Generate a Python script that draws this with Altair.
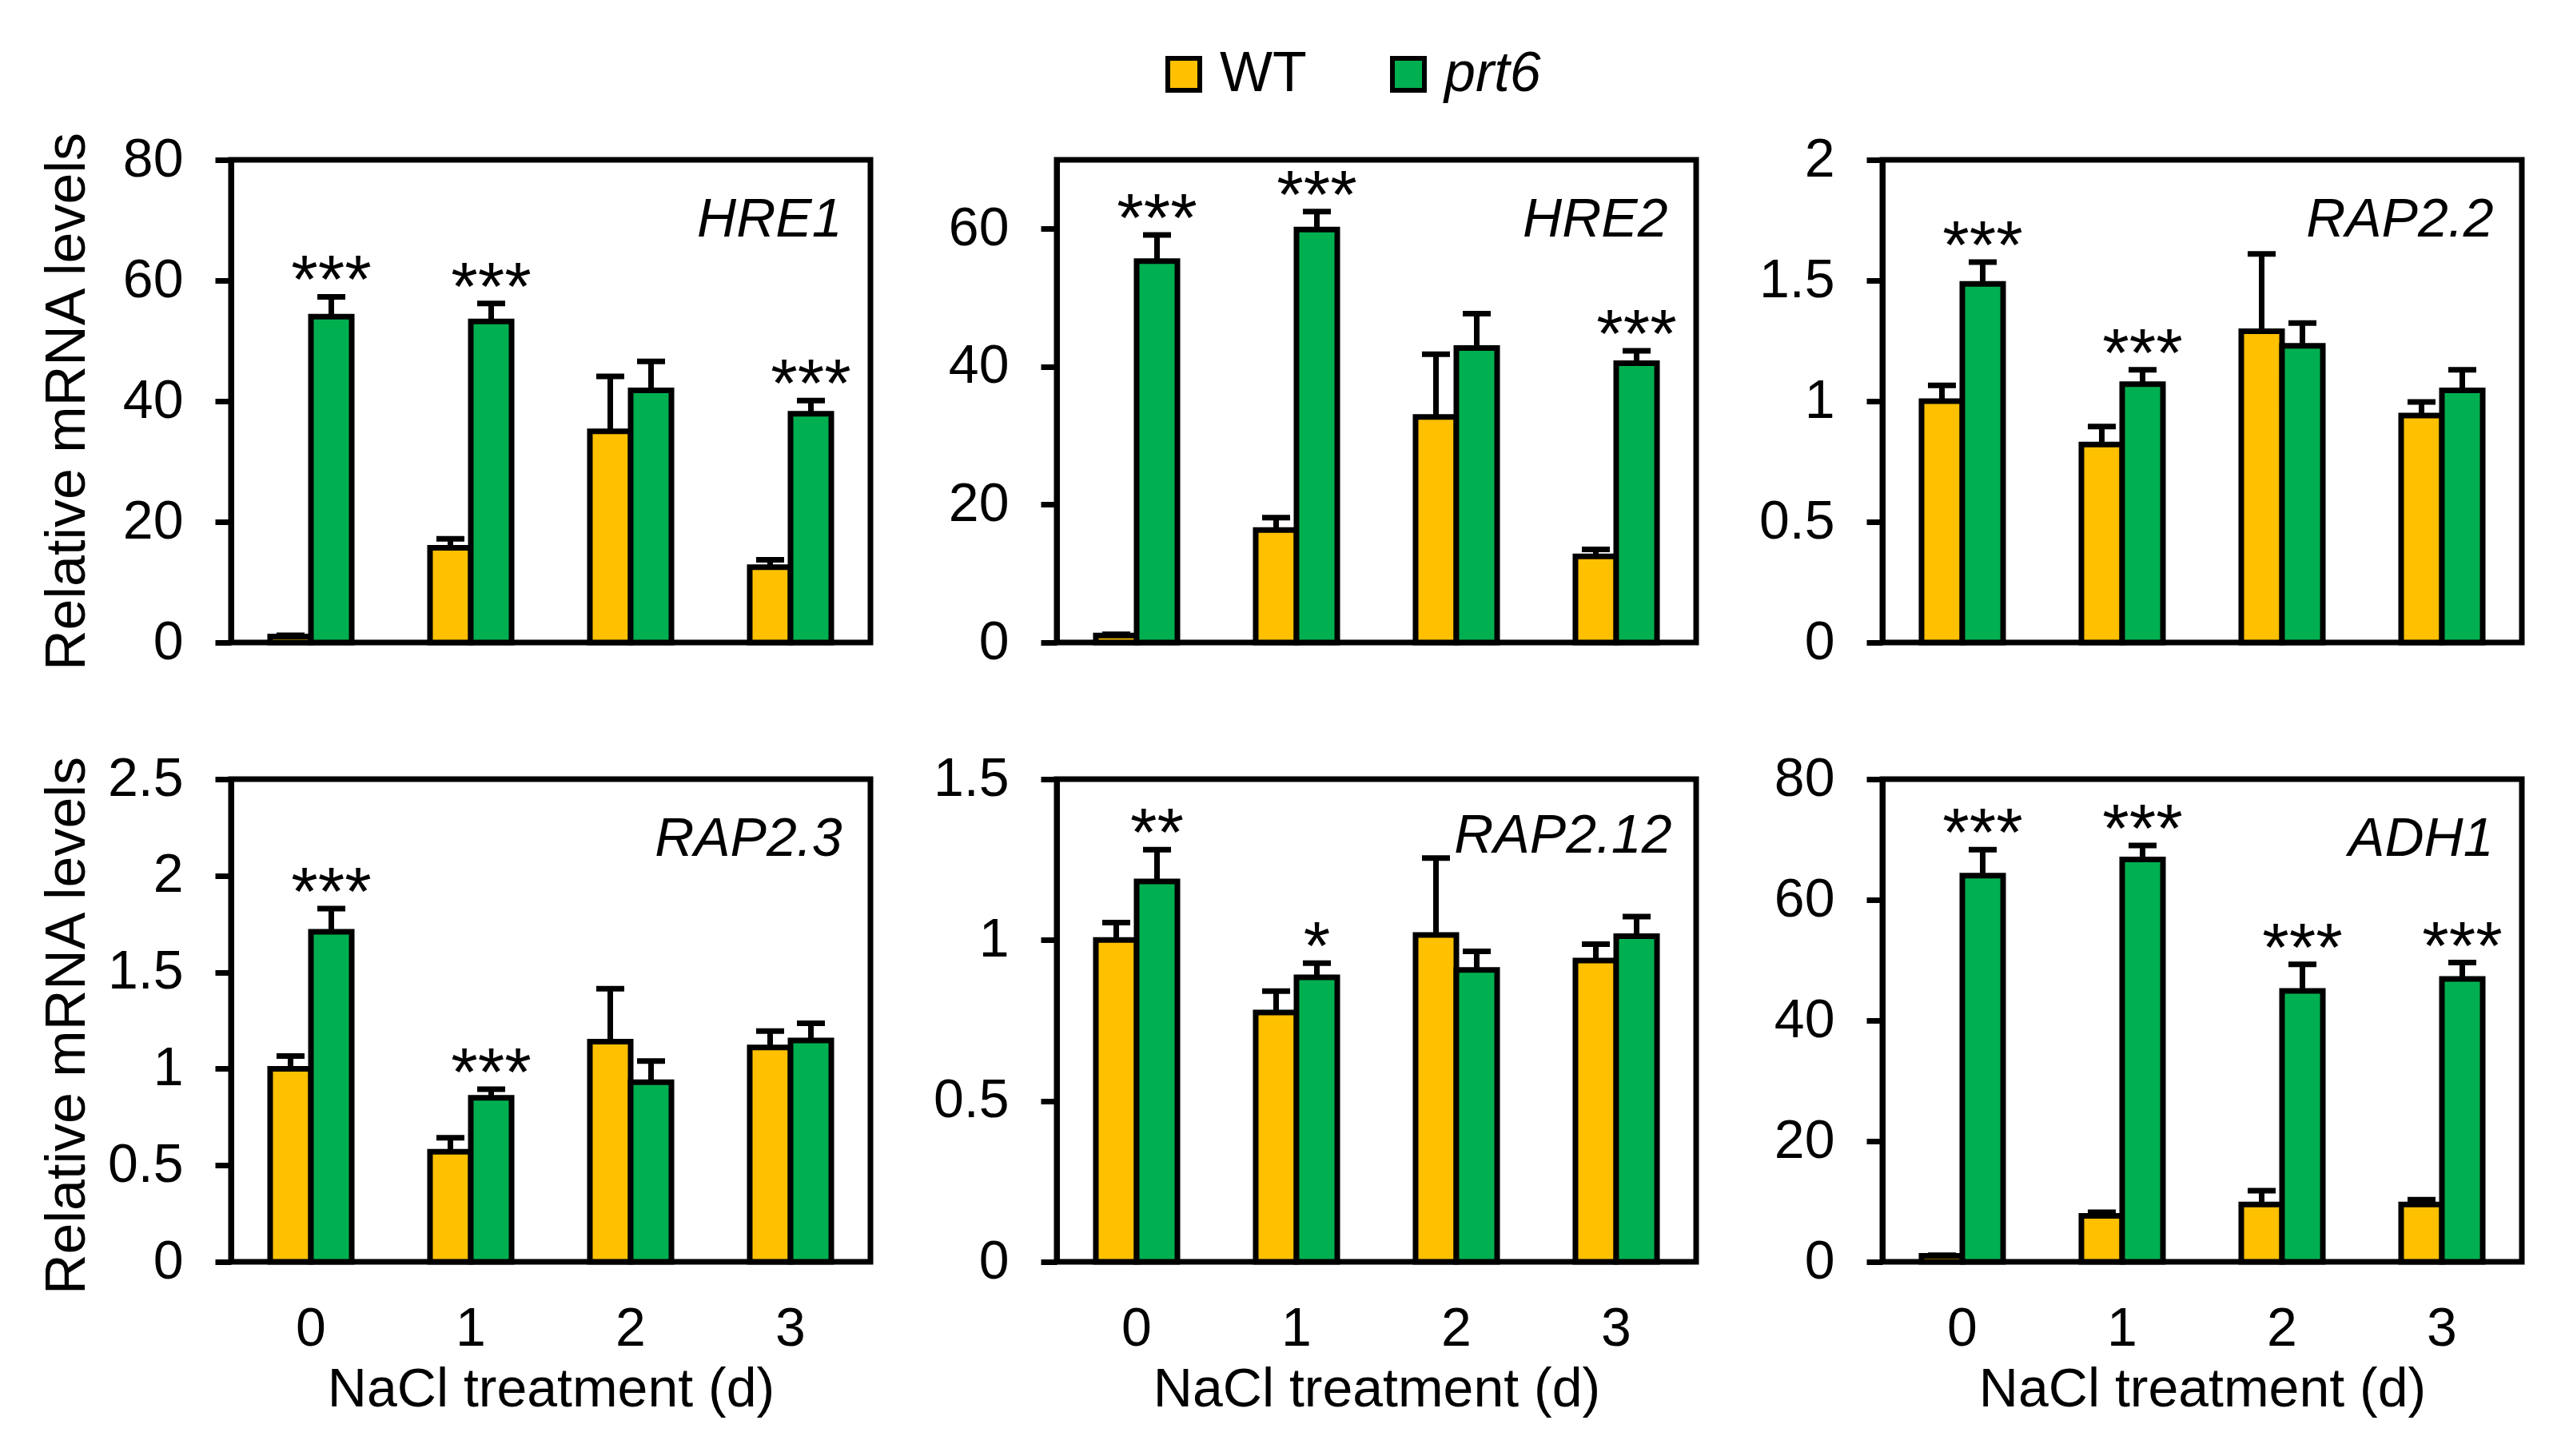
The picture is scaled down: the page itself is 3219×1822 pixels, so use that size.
import altair as alt
import pandas as pd

days = ["0", "1", "2", "3"]
genotypes = ["WT", "prt6"]
colors = ["#FFC000", "#00B050"]

genes = ["HRE1", "HRE2", "RAP2.2", "RAP2.3", "RAP2.12", "ADH1"]

wt_mean = {
    "HRE1": [1.0, 15.7, 35.0, 12.5],
    "HRE2": [1.0, 16.3, 32.7, 12.5],
    "RAP2.2": [1.0, 0.82, 1.29, 0.94],
    "RAP2.3": [1.0, 0.57, 1.14, 1.11],
    "RAP2.12": [1.0, 0.775, 1.016, 0.936],
    "ADH1": [1.0, 7.6, 9.5, 9.5],
}
wt_se = {
    "HRE1": [0.2, 1.5, 9.1, 1.2],
    "HRE2": [0.2, 1.8, 9.1, 1.0],
    "RAP2.2": [0.065, 0.075, 0.32, 0.057],
    "RAP2.3": [0.066, 0.073, 0.275, 0.085],
    "RAP2.12": [0.054, 0.066, 0.239, 0.051],
    "ADH1": [0.1, 0.6, 2.3, 0.8],
}
prt6_mean = {
    "HRE1": [54.0, 53.2, 41.8, 37.9],
    "HRE2": [55.3, 59.9, 42.7, 40.5],
    "RAP2.2": [1.486, 1.07, 1.229, 1.045],
    "RAP2.3": [1.709, 0.85, 0.93, 1.147],
    "RAP2.12": [1.182, 0.884, 0.907, 1.012],
    "ADH1": [64.0, 66.7, 44.9, 46.9],
}
prt6_se = {
    "HRE1": [3.3, 3.0, 4.8, 2.2],
    "HRE2": [3.8, 2.6, 5.0, 1.8],
    "RAP2.2": [0.09, 0.06, 0.095, 0.085],
    "RAP2.3": [0.12, 0.044, 0.11, 0.088],
    "RAP2.12": [0.099, 0.044, 0.058, 0.061],
    "ADH1": [4.3, 2.3, 4.4, 2.7],
}
signif = {
    "HRE1": ["***", "***", "", "***"],
    "HRE2": ["***", "***", "", "***"],
    "RAP2.2": ["***", "***", "", ""],
    "RAP2.3": ["***", "***", "", ""],
    "RAP2.12": ["**", "*", "", ""],
    "ADH1": ["***", "***", "***", "***"],
}
y_max = {"HRE1": 80, "HRE2": 70, "RAP2.2": 2, "RAP2.3": 2.5, "RAP2.12": 1.5, "ADH1": 80}
y_ticks = {
    "HRE1": [0, 20, 40, 60, 80],
    "HRE2": [0, 20, 40, 60],
    "RAP2.2": [0, 0.5, 1, 1.5, 2],
    "RAP2.3": [0, 0.5, 1, 1.5, 2, 2.5],
    "RAP2.12": [0, 0.5, 1, 1.5],
    "ADH1": [0, 20, 40, 60, 80],
}
y_title = "Relative mRNA levels"
x_title = "NaCl treatment (d)"

FONT = "Liberation Sans"
W, H = 800, 604
LW = 7


def panel(idx, gene):
    first_col = idx % 3 == 0
    bottom_row = idx >= 3
    df = pd.DataFrame({
        "day": days * 2,
        "genotype": ["WT"] * 4 + ["prt6"] * 4,
        "mean": wt_mean[gene] + prt6_mean[gene],
        "se": wt_se[gene] + prt6_se[gene],
        "sig": [""] * 4 + signif[gene],
    })
    df["top"] = df["mean"] + df["se"]

    xscale = alt.Scale(domain=days, paddingInner=0, paddingOuter=0)
    xoff = alt.XOffset("genotype:N", sort=genotypes,
                       scale=alt.Scale(domain=genotypes, paddingInner=0, paddingOuter=0.96))
    yscale = alt.Scale(domain=[0, y_max[gene]], nice=False, zero=True)

    if bottom_row:
        xaxis = alt.Axis(orient="bottom", title=x_title, labelAngle=0, ticks=False, tickSize=0,
                         domain=False, labelPadding=50, labelFontSize=68, titleFontSize=68,
                         titleFontWeight="normal", titleX=W / 2, titleY=180,
                         titleAlign="center", titleBaseline="alphabetic")
    else:
        xaxis = alt.Axis(orient="bottom", title=None, labels=False, ticks=False,
                         domain=False)

    yaxis = alt.Axis(values=y_ticks[gene], format="~g", tickSize=20, tickWidth=LW,
                     domainWidth=LW, labelPadding=40, labelFontSize=68, grid=False,
                     title=y_title if first_col else None,
                     titleX=-184, titleY=H / 2 + (6 if bottom_row else 0), titleAngle=-90,
                     titleAlign="center", titleBaseline="alphabetic", titleFontSize=70,
                     titleFontWeight="normal")

    gx = W - (31 if gene == "RAP2.12" else 36)
    gy = 91 if gene == "RAP2.12" else 95
    top_axis = alt.Axis(orient="top", labels=False, ticks=False, domain=False, title=gene,
                        titleX=gx, titleY=gy, titleAlign="right", titleBaseline="alphabetic",
                        titleFontStyle="italic", titleFontWeight="normal", titleFontSize=68,
                        titleAngle=0)

    base = alt.Chart(df)
    bars = base.mark_bar(stroke="black", strokeWidth=LW).encode(
        x=alt.X("day:N", scale=xscale, axis=xaxis, sort=days),
        xOffset=xoff,
        y=alt.Y("mean:Q", scale=yscale, axis=yaxis),
        color=alt.Color(
            "genotype:N",
            scale=alt.Scale(domain=genotypes, range=colors),
            legend=alt.Legend(
                title=None, orient="none", legendX=1157, legendY=-142,
                direction="horizontal", symbolType="square", symbolSize=1600,
                symbolStrokeColor="black", symbolStrokeWidth=6, symbolOpacity=1,
                labelFontSize=70, labelFont=FONT, labelOffset=10, columnPadding=92,
                labelLimit=0, padding=0,
                labelFontStyle={"expr": "datum.label == 'prt6' ? 'italic' : 'normal'"},
            ),
        ),
    )
    rules = base.mark_rule(color="black", strokeWidth=LW).encode(
        x=alt.X("day:N", scale=xscale, axis=None, sort=days),
        xOffset=xoff,
        y=alt.Y("mean:Q", scale=yscale),
        y2="top:Q",
    )
    caps = base.mark_tick(color="black", size=35, thickness=LW, opacity=1).encode(
        x=alt.X("day:N", scale=xscale, axis=None, sort=days),
        xOffset=xoff,
        y=alt.Y("top:Q", scale=yscale),
    )
    stars = base.transform_filter("datum.sig != ''").mark_text(
        fontSize=86, baseline="alphabetic", dy=8, font=FONT, color="black"
    ).encode(
        x=alt.X("day:N", scale=xscale, axis=top_axis, sort=days),
        xOffset=xoff,
        y=alt.Y("top:Q", scale=yscale),
        text="sig:N",
    )
    return alt.layer(bars, rules, caps, stars).properties(width=W, height=H)


panels = [panel(i, g) for i, g in enumerate(genes)]

chart = alt.concat(*panels, columns=3, spacing={"row": 171, "column": 233}).properties(
    bounds="flush",
    padding={"left": 37, "top": 50, "right": 30, "bottom": 30},
).resolve_scale(
    x="independent", y="independent", xOffset="independent", color="shared"
).resolve_legend(color="shared").configure(
    font=FONT,
).configure_view(
    stroke="black", strokeWidth=LW,
).configure_axis(
    domainColor="black", tickColor="black", labelColor="black", titleColor="black",
    labelFont=FONT, titleFont=FONT,
).configure_legend(
    labelColor="black",
)

chart.save("out.html", embed_options={"renderer": "svg", "actions": False})
